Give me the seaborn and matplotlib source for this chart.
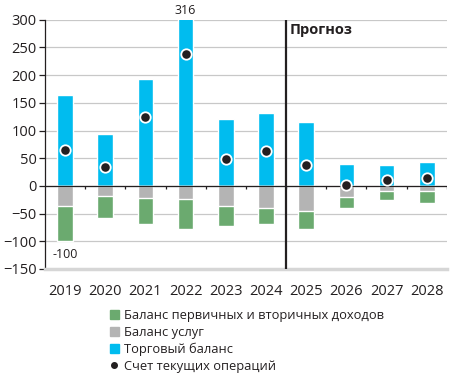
import numpy as np
import pandas as pd
import seaborn as sns
import matplotlib
matplotlib.use("Agg")
import matplotlib.pyplot as plt
from matplotlib.lines import Line2D
from matplotlib.patches import Patch

years = ["2019", "2020", "2021", "2022", "2023", "2024", "2025", "2026", "2027", "2028"]
trade = [165, 93, 193, 316, 121, 131, 115, 40, 37, 44]
services = [-37, -18, -22, -23, -37, -40, -46, -20, -9, -10]
income = [-63, -40, -46, -55, -35, -29, -32, -20, -17, -21]
current = [65, 34, 124, 238, 48, 63, 38, 2, 11, 14]

c_trade = "#00BCEF"
c_serv = "#B4B4B4"
c_inc = "#6BAA6F"

sns.set_style("white")
plt.rcParams["font.family"] = ["Open Sans", "DejaVu Sans"]

df = pd.DataFrame({"year": years, "trade": trade, "services": services,
                   "income": income, "current": current})
df["neg_total"] = df["services"] + df["income"]

fig = plt.figure(figsize=(4.52, 3.74), dpi=100)
ax = fig.add_axes([0.0996, 0.281, 0.889, 0.666])

for v in range(-100, 301, 50):
    ax.axhline(v, color="#C8C8C8", lw=0.9, zorder=0)

sns.barplot(data=df, x="year", y="trade", color=c_trade, width=0.39,
            saturation=1, ax=ax, zorder=2)
sns.barplot(data=df, x="year", y="neg_total", color=c_inc, width=0.39,
            saturation=1, ax=ax, zorder=2)
sns.barplot(data=df, x="year", y="services", color=c_serv, width=0.39,
            saturation=1, ax=ax, zorder=3)
sns.stripplot(data=df, x="year", y="current", jitter=False, color="#231F20",
              size=7.5, edgecolor="white", linewidth=1.3, ax=ax, zorder=5)

ax.set_ylim(-150, 300)
ax.set_xlim(-0.5, 9.5)
ax.set_yticks(range(-150, 301, 50))
ax.set_xlabel("")
ax.set_ylabel("")

# zero line with small ticks between categories
ax.axhline(0, color="#231F20", lw=0.9, zorder=4)
ax.vlines(np.arange(0.5, 10, 1), -5, 0, color="#231F20", lw=0.9, zorder=4)

# forecast divider
ax.axvline(5.5, color="#231F20", lw=1.6, zorder=6)
ax.text(5.58, 282, "Прогноз", fontsize=10.5, fontweight="bold",
        color="#231F20", va="center", ha="left")

ax.text(3, 306, "316", ha="center", va="bottom", fontsize=9, color="#231F20",
        clip_on=False)
ax.text(0, -112, "-100", ha="center", va="top", fontsize=9, color="#231F20")

for s in ["top", "right"]:
    ax.spines[s].set_visible(False)
ax.spines["left"].set_color("#231F20")
ax.spines["left"].set_linewidth(0.9)
ax.spines["bottom"].set_color("#D6D6D6")
ax.spines["bottom"].set_linewidth(2.5)
ax.tick_params(axis="y", length=4, width=0.9, color="#231F20", labelsize=10.5,
               labelcolor="#231F20", pad=2, left=True)
ax.tick_params(axis="x", length=0, labelsize=10.5, labelcolor="#231F20", pad=11)

handles = [
    Patch(color=c_inc, label="Баланс первичных и вторичных доходов"),
    Patch(color=c_serv, label="Баланс услуг"),
    Patch(color=c_trade, label="Торговый баланс"),
    Line2D([], [], marker="o", color="#231F20", lw=0, markersize=4,
           label="Счет текущих операций"),
]
fig.legend(handles=handles, loc="upper left", bbox_to_anchor=(0.228, 0.19),
           frameon=False, fontsize=9.3, handlelength=0.7, handleheight=0.7,
           handletextpad=0.4, labelspacing=0.28, borderpad=0,
           labelcolor="#231F20")

fig.savefig("out.png", dpi=100)
